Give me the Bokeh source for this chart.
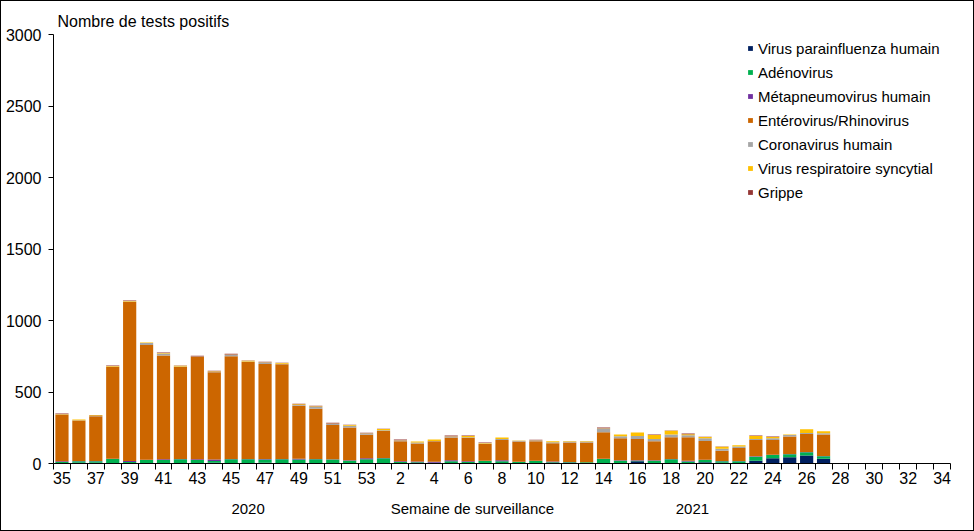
from bokeh.plotting import figure
from bokeh.models import Range1d, FixedTicker, Legend, LegendItem, ColumnDataSource, LinearAxis
from bokeh.embed import file_html
from bokeh.resources import INLINE

weeks = list(range(35, 54)) + list(range(1, 35))

paraflu    = [3, 5, 6, 2, 3, 2, 2, 2, 2, 6, 2, 2, 6, 2, 2, 2, 2, 2, 2,
              2, 2, 2, 2, 2, 2, 2, 2, 2, 4, 2, 4, 2, 2, 2, 16, 2, 4, 2, 8, 6, 2, 20, 36, 44, 56, 34,
              0, 0, 0, 0, 0, 0, 0]
adeno      = [8, 10, 10, 30, 8, 22, 22, 28, 22, 12, 28, 28, 22, 28, 26, 28, 26, 18, 28,
              35, 8, 6, 4, 14, 8, 16, 14, 8, 14, 6, 4, 6, 30, 18, 4, 18, 26, 12, 16, 10, 14, 28, 24, 20, 22, 16,
              0, 0, 0, 0, 0, 0, 0]
metapneumo = [4, 2, 2, 2, 6, 2, 5, 2, 6, 10, 2, 2, 3, 2, 6, 2, 2, 2, 6,
              2, 6, 6, 6, 6, 6, 2, 6, 2, 2, 6, 2, 1, 2, 2, 2, 2, 2, 6, 2, 2, 2, 2, 2, 2, 2, 2,
              0, 0, 0, 0, 0, 0, 0]
entero     = [328, 284, 313, 642, 1113, 802, 727, 643, 715, 610, 718, 677, 665, 662, 369, 351, 240, 230, 165,
              189, 140, 126, 143, 159, 164, 116, 142, 141, 135, 128, 137, 137, 185, 154, 150, 134, 151, 163, 131, 72, 91, 114, 102, 122, 126, 151,
              0, 0, 0, 0, 0, 0, 0]
corona     = [2, 1, 1, 2, 2, 14, 14, 3, 2, 3, 10, 5, 10, 3, 6, 14, 8, 12, 8,
              5, 5, 7, 3, 8, 4, 3, 8, 6, 5, 6, 7, 8, 26, 14, 20, 16, 20, 14, 20, 14, 10, 8, 12, 12, 7, 8,
              0, 0, 0, 0, 0, 0, 0]
rsv        = [1, 5, 6, 3, 5, 4, 2, 6, 2, 4, 2, 4, 2, 5, 5, 3, 2, 6, 2,
              9, 2, 6, 9, 2, 8, 4, 9, 1, 2, 7, 3, 3, 2, 12, 24, 27, 26, 8, 8, 14, 8, 20, 10, 2, 26, 14,
              0, 0, 0, 0, 0, 0, 0]
grippe     = [4, 1, 2, 4, 3, 1, 5, 2, 5, 4, 6, 3, 4, 3, 4, 4, 5, 1, 4,
              1, 5, 1, 1, 5, 4, 4, 1, 1, 4, 1, 1, 1, 5, 1, 1, 4, 2, 5, 2, 1, 1, 4, 3, 1, 1, 1,
              0, 0, 0, 0, 0, 0, 0]

series_names = ["Virus parainfluenza humain", "Adénovirus", "Métapneumovirus humain",
                "Entérovirus/Rhinovirus", "Coronavirus humain",
                "Virus respiratoire syncytial", "Grippe"]
series_keys = ["paraflu", "adeno", "metapneumo", "entero", "corona", "rsv", "grippe"]
colors = ["#002060", "#00B050", "#7030A0", "#CC6600", "#A6A6A6", "#FFC000", "#953735"]

y_ticks = [0, 500, 1000, 1500, 2000, 2500, 3000]
bottom_labels = {11: "2020", 24.25: "Semaine de surveillance", 37.25: "2021"}

FONT = "Liberation Sans"

source = ColumnDataSource(dict(
    x=list(range(len(weeks))),
    paraflu=paraflu, adeno=adeno, metapneumo=metapneumo, entero=entero,
    corona=corona, rsv=rsv, grippe=grippe,
))

p = figure(width=974, height=531, output_backend="svg", toolbar_location=None,
           x_range=Range1d(-0.5, len(weeks) - 0.5), y_range=Range1d(0, 3000),
           min_border_left=53, min_border_right=24, min_border_top=34, min_border_bottom=68)
p.border_fill_color = None
p.styles = {"background-color": "white", "box-shadow": "inset 0 0 0 1px black"}
p.outline_line_color = None
p.xgrid.grid_line_color = None
p.ygrid.grid_line_color = None

p.title.text = "Nombre de tests positifs"
p.title.text_font = FONT
p.title.text_font_size = "16px"
p.title.text_font_style = "normal"
p.title.text_color = "black"
p.title.align = "left"
p.title.offset = 4
p.title.standoff = 9

renderers = p.vbar_stack(series_keys, x="x", width=0.78, color=colors, source=source,
                         line_color=None)

# x axis
major = list(range(0, len(weeks), 2))
p.xaxis.ticker = FixedTicker(ticks=major, minor_ticks=[i - 0.5 for i in range(len(weeks) + 1)])
p.xaxis.major_label_overrides = {i: str(weeks[i]) for i in major}
p.xaxis.major_tick_out = 0
p.xaxis.major_tick_in = 0
p.xaxis.minor_tick_out = 6
p.xaxis.minor_tick_in = 0
p.xaxis.minor_tick_line_color = "black"
p.xaxis.axis_line_color = "black"
p.xaxis.major_label_text_font = FONT
p.xaxis.major_label_text_font_size = "16px"
p.xaxis.major_label_text_color = "black"
p.xaxis.major_label_standoff = 2

# second row of texts under the axis
ax2 = LinearAxis(ticker=FixedTicker(ticks=list(bottom_labels.keys()), minor_ticks=[]),
                 major_label_overrides=bottom_labels)
ax2.axis_line_color = None
ax2.major_tick_line_color = None
ax2.minor_tick_line_color = None
ax2.major_tick_out = 0
ax2.major_tick_in = 0
ax2.major_label_text_font = FONT
ax2.major_label_text_font_size = "15px"
ax2.major_label_text_color = "black"
ax2.major_label_standoff = 13
p.add_layout(ax2, "below")

# y axis
p.yaxis.ticker = FixedTicker(ticks=y_ticks)
p.yaxis.major_tick_out = 5
p.yaxis.major_tick_in = 0
p.yaxis.minor_tick_out = 0
p.yaxis.minor_tick_in = 0
p.yaxis.axis_line_color = "black"
p.yaxis.major_tick_line_color = "black"
p.yaxis.major_label_text_font = FONT
p.yaxis.major_label_text_font_size = "16px"
p.yaxis.major_label_text_color = "black"
p.yaxis.major_label_standoff = 7

legend = Legend(items=[LegendItem(label=n, renderers=[r]) for n, r in zip(series_names, renderers)],
                location=(694, 261), padding=0, margin=0, spacing=4,
                glyph_width=6, glyph_height=6, label_height=20, label_standoff=5,
                label_text_font=FONT, label_text_font_size="15px", label_text_color="black",
                border_line_color=None, background_fill_alpha=0)
p.add_layout(legend, "center")

open("out.html", "w").write(file_html(p, INLINE))
